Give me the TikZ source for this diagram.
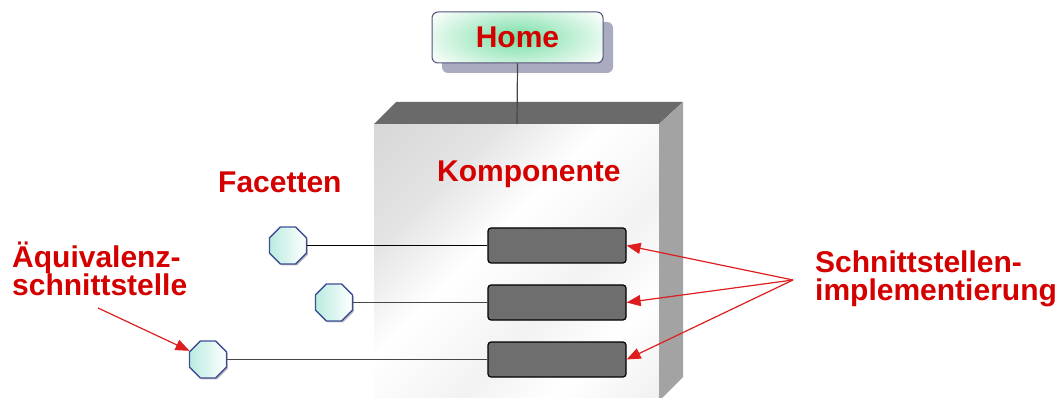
\documentclass[tikz,border=0pt]{standalone}
\usepackage{fontspec}
\setmainfont{Liberation Sans}
\usetikzlibrary{shapes.geometric,arrows.meta,shadows}

\definecolor{lblred}{RGB}{212,0,0}
\definecolor{arrred}{RGB}{222,30,30}
\definecolor{topgray}{RGB}{106,106,106}
\definecolor{sidegray}{RGB}{163,163,163}
\definecolor{implgray}{RGB}{110,110,110}
\definecolor{octblue}{RGB}{62,78,150}
\definecolor{octcyan}{RGB}{185,236,224}
\definecolor{mint}{RGB}{120,222,165}
\definecolor{homeedge}{RGB}{80,80,120}
\definecolor{homeshadow}{RGB}{170,170,192}
\definecolor{wiregray}{RGB}{70,70,70}

% diagonal light-grey gradient of the component's front face
\pgfdeclareverticalshading{facegrad}{100bp}{%
  color(0bp)=(gray!25); color(28bp)=(white); color(40bp)=(gray!10);
  color(56bp)=(white); color(70bp)=(gray!22); color(100bp)=(gray!40)}

\begin{document}
\begin{tikzpicture}[x=1pt,y=-1pt,
  lbl/.style={font=\fontsize{30}{28}\selectfont\bfseries, text=lblred,
    inner sep=0pt, align=left},
  homebox/.style={draw=homeedge, line width=1pt, rounded corners=6pt, fill=white,
    minimum width=171pt, minimum height=51pt, inner sep=0pt,
    font=\fontsize{30}{30}\selectfont\bfseries, text=lblred,
    drop shadow={shadow xshift=10pt, shadow yshift=-10pt, fill=homeshadow, opacity=1},
    path picture={\shade[inner color=mint, outer color=white]
      (path picture bounding box.center) ellipse [x radius=105pt, y radius=42pt];}},
  facet/.style={regular polygon, regular polygon sides=8, minimum size=40pt,
    inner sep=0pt, draw=octblue, line width=1.4pt,
    drop shadow={shadow xshift=1.5pt, shadow yshift=-1.5pt, fill=gray!50, opacity=1},
    left color=octcyan, right color=white},
  impl/.style={draw=black, line width=1.2pt, fill=implgray, rounded corners=3pt,
    minimum width=138pt, minimum height=35pt, inner sep=0pt},
  wire/.style={line width=1.4pt},
  pointer/.style={draw=arrred, line width=1.2pt, -{Triangle[length=14pt,width=11pt]}},
]
\useasboundingbox (0,0) rectangle (1058,398);
\clip (0,0) rectangle (1058,398);

% component block (front, top and side faces)
\shade[shading=facegrad, shading angle=45] (374,124) rectangle (659,401);
\fill[topgray] (374,124) -- (396,102) -- (683,102) -- (659,124) -- cycle;
\fill[sidegray] (659,124) -- (683,102) -- (683,377) -- (659,401) -- cycle;
\coordinate (boxtop) at (517,124);

% home interface
\node[homebox] (home) at (517.5,37.5) {Home};
\draw[line width=1.2pt, wiregray] (home.south) -- (boxtop);

% interface implementations
\node[impl] (r1) at (557,245.5) {};
\node[impl] (r2) at (557,302.5) {};
\node[impl] (r3) at (557,359.5) {};

% facets
\node[facet] (o1) at (288,245.5) {};
\node[facet] (o2) at (334,302.5) {};
\node[facet] (o3) at (208,359.5) {};

\draw[wire, black] (o1.east) -- (r1.west);
\draw[wire, wiregray] (o2.east) -- (r2.west);
\draw[wire, wiregray] (o3.east) -- (r3.west);

% labels (base anchor sits on the last line)
\node[lbl, anchor=base west] (lfac) at (218,193) {Facetten};
\node[lbl, anchor=base west] (lkomp) at (437,182) {Komponente};
\node[lbl, anchor=base west] (laeq) at (12,295) {Äquivalenz-\\schnittstelle};
\node[lbl, anchor=base west] (limpl) at (815,300) {Schnittstellen-\\implementierung};

% pointers
\coordinate (src) at (793,280);
\draw[pointer] (src) -- (r1.east);
\draw[pointer] (src) -- (r2.east);
\draw[pointer] (src) -- (r3.east);
\coordinate (aeqsrc) at (98,308);
\draw[pointer] (aeqsrc) -- (o3);
\end{tikzpicture}
\end{document}
